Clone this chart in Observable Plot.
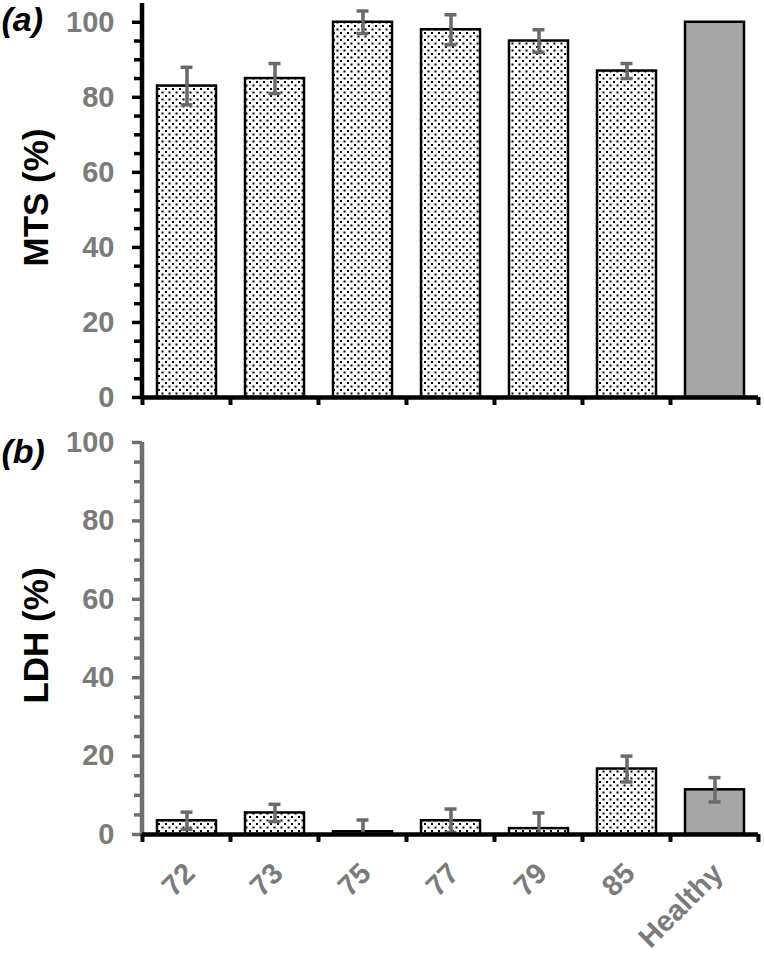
<!DOCTYPE html>
<html>
<head>
<meta charset="utf-8">
<script src="https://cdn.jsdelivr.net/npm/d3@7"></script>
<script src="https://cdn.jsdelivr.net/npm/@observablehq/plot@0.6"></script>
<style>
  html, body { margin: 0; padding: 0; background: #fff; }
  #chart { width: 764px; }
  #chart svg { display: block; }
</style>
</head>
<body>
<svg width="0" height="0" style="position:absolute">
  <defs>
    <pattern id="dots" width="7" height="7" patternUnits="userSpaceOnUse">
      <rect width="7" height="7" fill="#ffffff"></rect>
      <rect x="0.5" y="0.5" width="2" height="2" fill="#000"></rect>
      <rect x="4" y="4" width="2" height="2" fill="#000"></rect>
    </pattern>
  </defs>
</svg>
<div id="chart"></div>
<script>
// ---- data ----
const categories = ["72", "73", "75", "77", "79", "85", "Healthy"];
const mtsValues = [83, 85, 100, 98, 95, 87, 100];
const mtsErrors = [5, 4, 3, 4, 3, 2, 0];
const ldhValues = [3.5, 5.5, 0.7, 3.5, 1.5, 16.7, 11.4];
const ldhErrors = [2.2, 2.2, 3, 3, 4, 3.3, 3.1];
const majorTicks = [0, 20, 40, 60, 80, 100];
const minorTicks = [5, 10, 15, 25, 30, 35, 45, 50, 55, 65, 70, 75, 85, 90, 95];
const controlCategory = "Healthy";

const FONT = "Arial, 'Liberation Sans', Helvetica, sans-serif";
const LABEL_GREY = "#7b7b7b";
const ERR_GREY = "#6a6a6a";
const PAD_INNER = 0.33;
const NS = "http://www.w3.org/2000/svg";

function rows(values, errors) {
  return categories.map((c, i) => ({
    cat: c,
    value: values[i],
    err: errors[i],
    lo: Math.max(0, values[i] - errors[i]),
    hi: values[i] + errors[i]
  }));
}

function el(tag, attrs) {
  const e = document.createElementNS(NS, tag);
  for (const k in attrs) e.setAttribute(k, attrs[k]);
  return e;
}

// vertical y-axis line along left edge of the frame
function yAxisLine(color, width) {
  return (index, scales, values, dims) => {
    const g = el("g", {});
    const x = dims.marginLeft;
    g.appendChild(el("line", {
      x1: x, x2: x,
      y1: dims.marginTop,
      y2: dims.height - dims.marginBottom + 2,
      stroke: color, "stroke-width": width
    }));
    return g;
  };
}

// tick marks at band boundaries on the x axis
function bandBoundaryTicks(len, width) {
  return (index, scales, values, dims) => {
    const g = el("g", {});
    if (!scales || !scales.x || !scales.y) return g;
    const xs = categories.map((c) => scales.x(c));
    const step = xs[1] - xs[0];
    const bw = step * (1 - PAD_INNER);
    const off = (step - bw) / 2;
    const bounds = xs.map((v) => v - off).concat([xs[xs.length - 1] - off + step]);
    const y0 = scales.y(0);
    for (const b of bounds) {
      g.appendChild(el("line", {
        x1: b, x2: b, y1: y0, y2: y0 + len,
        stroke: "#000", "stroke-width": width
      }));
    }
    return g;
  };
}

function panel({data, yDomain, height, marginTop, marginBottom, axisColor, title, tag, tagDy, showX}) {
  const samples = data.filter((d) => d.cat !== controlCategory);
  const control = data.filter((d) => d.cat === controlCategory);
  const withErr = data.filter((d) => d.err > 0);
  const marks = [
    Plot.barY(samples, {x: "cat", y: "value", fill: "url(#dots)", stroke: "#000", strokeWidth: 2.5}),
    Plot.barY(control, {x: "cat", y: "value", fill: "#a6a6a6", stroke: "#000", strokeWidth: 2.5}),
    Plot.ruleX(withErr, {x: "cat", y1: "lo", y2: "hi", stroke: ERR_GREY, strokeWidth: 3.5}),
    Plot.tickY(withErr, {x: "cat", y: "hi", stroke: ERR_GREY, strokeWidth: 3.5, insetLeft: 23.5, insetRight: 23.5}),
    Plot.tickY(withErr.filter((d) => d.lo > 0), {x: "cat", y: "lo", stroke: ERR_GREY, strokeWidth: 3.5, insetLeft: 23.5, insetRight: 23.5}),
    // y axis: minor ticks, major ticks, labels
    Plot.axisY({ticks: minorTicks, tickSize: 8, text: null, stroke: axisColor, strokeWidth: 3.5, label: null}),
    Plot.axisY({ticks: majorTicks, tickSize: 10, text: null, stroke: axisColor, strokeWidth: 3.5, label: null}),
    Plot.axisY({ticks: majorTicks, tickSize: 0, tickPadding: 28, fontSize: 29, fontWeight: "bold", color: LABEL_GREY, fill: LABEL_GREY, label: null}),
    yAxisLine(axisColor, 4.5),
    Plot.ruleY([0], {stroke: "#000", strokeWidth: 4.5}),
    bandBoundaryTicks(8, 4),
    Plot.text([title], {frameAnchor: "left", rotate: -90, dx: -106, dy: -3, fontSize: 35, fontWeight: "bold", fill: "#000", textAnchor: "middle", lineAnchor: "middle"}),
    Plot.text([tag], {frameAnchor: "top-left", dx: -141, dy: tagDy, fontSize: 34, fontWeight: "bold", fontStyle: "italic", fill: "#000", textAnchor: "start", lineAnchor: "top"})
  ];
  if (showX) {
    marks.push(Plot.axisX({tickRotate: -45, tickSize: 0, tickPadding: 34, dx: 3, fontSize: 29, fontWeight: "bold", color: LABEL_GREY, fill: LABEL_GREY, label: null}));
  }
  return Plot.plot({
    width: 764,
    height,
    marginLeft: 142,
    marginRight: 6,
    marginTop,
    marginBottom,
    style: {fontFamily: FONT, background: "#fff", overflow: "visible"},
    x: {type: "band", domain: categories, paddingInner: PAD_INNER, paddingOuter: PAD_INNER / 2, axis: null},
    y: {domain: yDomain, axis: null},
    marks
  });
}

const chart = document.getElementById("chart");
chart.appendChild(panel({
  data: rows(mtsValues, mtsErrors),
  yDomain: [0, 105],
  height: 420,
  marginTop: 3,
  marginBottom: 23,
  axisColor: "#000",
  title: "MTS (%)",
  tag: "(a)",
  tagDy: 3,
  showX: false
}));
chart.appendChild(panel({
  data: rows(ldhValues, ldhErrors),
  yDomain: [0, 100],
  height: 534,
  marginTop: 22,
  marginBottom: 120,
  axisColor: "#6e6e6e",
  title: "LDH (%)",
  tag: "(b)",
  tagDy: -4,
  showX: true
}));
</script>
</body>
</html>
